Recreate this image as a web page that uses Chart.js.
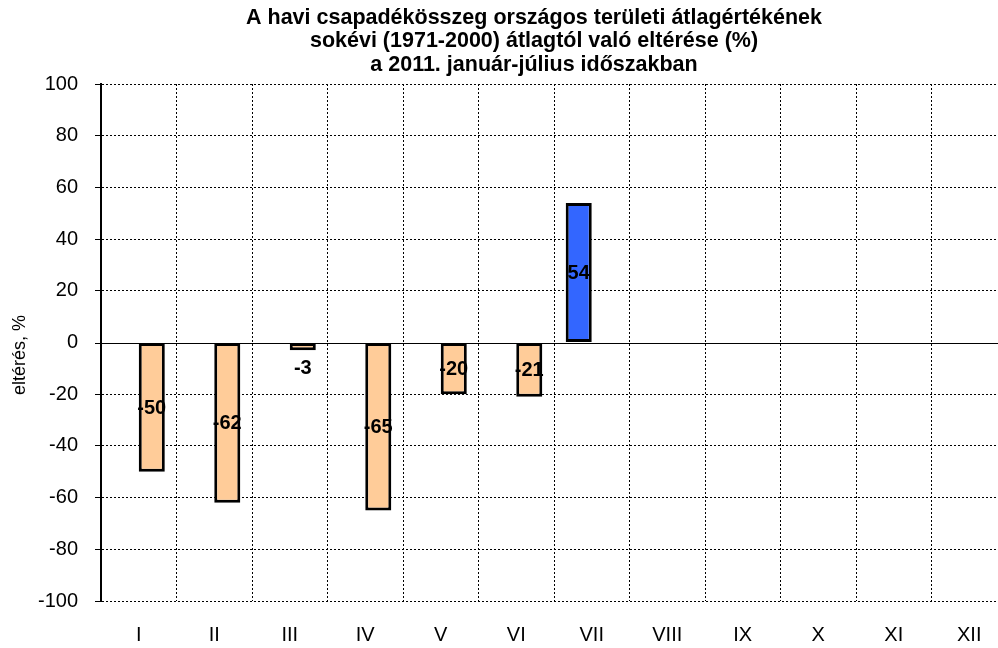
<!DOCTYPE html>
<html>
<head>
<meta charset="utf-8">
<script src="https://cdn.jsdelivr.net/npm/chart.js@4/dist/chart.umd.min.js"></script>
<style>
html,body{margin:0;padding:0;overflow:hidden;background:#fff;width:998px;height:648px;}
canvas{display:block;}
</style>
</head>
<body>
<canvas id="c" width="1068" height="648"></canvas>
<script>
const categories = ['I','II','III','IV','V','VI','VII','VIII','IX','X','XI','XII'];
const positiveValues = [null,null,null,null,null,null,54,null,null,null,null,null];
const negativeValues = [-50,-62,-3,-65,-20,-21,null,null,null,null,null,null];
const yMin = -100, yMax = 100, yStep = 20;
const titleLines = [
  'A havi csapadékösszeg országos területi átlagértékének',
  'sokévi (1971-2000) átlagtól való eltérése (%)',
  'a 2011. január-július időszakban'
];
const yAxisTitle = 'eltérés, %';

const FONT = '"Liberation Sans", Arial, sans-serif';

const titleText = {
  id: 'titleText',
  afterDraw(chart) {
    const {ctx} = chart;
    ctx.save();
    ctx.font = 'bold 21.5px ' + FONT;
    ctx.fillStyle = '#000';
    ctx.textAlign = 'center';
    ctx.textBaseline = 'middle';
    titleLines.forEach((t, i) => ctx.fillText(t, 534, 18 + i * 23.3));
    ctx.font = '18px ' + FONT;
    ctx.translate(20, 355);
    ctx.rotate(-Math.PI / 2);
    ctx.fillText(yAxisTitle, 0, 0);
    ctx.restore();
  }
};

const zeroLine = {
  id: 'zeroLine',
  beforeDatasetsDraw(chart) {
    const {ctx, chartArea, scales} = chart;
    const y = Math.round(scales.y.getPixelForValue(0)) + 0.5;
    ctx.save();
    ctx.strokeStyle = '#000';
    ctx.lineWidth = 1;
    ctx.setLineDash([]);
    ctx.beginPath();
    ctx.moveTo(chartArea.left - 6, y);
    ctx.lineTo(chartArea.right, y);
    ctx.stroke();
    ctx.restore();
  }
};

const valueLabels = {
  id: 'valueLabels',
  afterDatasetsDraw(chart) {
    const {ctx} = chart;
    ctx.save();
    ctx.font = 'bold 20px ' + FONT;
    ctx.fillStyle = '#000';
    ctx.textAlign = 'center';
    ctx.textBaseline = 'middle';
    chart.data.datasets.forEach((ds, di) => {
      const meta = chart.getDatasetMeta(di);
      meta.data.forEach((el, i) => {
        const v = ds.data[i];
        if (v === null || v === undefined) return;
        let y = (el.y + el.base) / 2 + 1;
        if (Math.abs(el.y - el.base) < 20) {
          y = el.y + (v < 0 ? 18 : -18);
        }
        ctx.fillText(String(v), el.x, y);
      });
    });
    ctx.restore();
  }
};

new Chart(document.getElementById('c'), {
  type: 'bar',
  data: {
    labels: categories,
    datasets: [
      {
        data: positiveValues,
        backgroundColor: '#3366FF',
        borderColor: '#000',
        borderWidth: 3,
        borderSkipped: false,
        categoryPercentage: 0.69,
        barPercentage: 1.0
      },
      {
        data: negativeValues,
        backgroundColor: '#FFCC99',
        borderColor: '#000',
        borderWidth: 3,
        borderSkipped: false,
        categoryPercentage: 0.69,
        barPercentage: 1.0
      }
    ]
  },
  options: {
    responsive: false,
    animation: false,
    devicePixelRatio: 1,
    layout: { padding: { left: 0, right: 61, top: 84, bottom: 0 } },
    plugins: {
      legend: { display: false },
      tooltip: { enabled: false },
      title: { display: false }
    },
    scales: {
      x: {
        offset: true,
        grid: {
          offset: true,
          color: '#000',
          lineWidth: 1,
          drawTicks: false
        },
        border: { display: false, dash: [2, 2] },
        ticks: {
          color: '#000',
          font: { family: FONT, size: 20 },
          padding: 22,
          maxRotation: 0,
          autoSkip: false
        },
        afterFit(scale) { scale.height = 47; }
      },
      y: {
        min: yMin,
        max: yMax,
        grid: {
          color: (c) => (c.tick && c.tick.value === 0) ? 'rgba(0,0,0,0)' : '#000',
          lineWidth: 1,
          drawTicks: true,
          tickLength: 6
        },
        border: { display: true, color: '#000', width: 2, dash: [2, 2] },
        ticks: {
          stepSize: yStep,
          color: '#000',
          font: { family: FONT, size: 20 },
          padding: 17
        },
        afterFit(scale) { scale.width = 101; }
      }
    }
  },
  plugins: [titleText, zeroLine, valueLabels]
});
</script>
</body>
</html>
